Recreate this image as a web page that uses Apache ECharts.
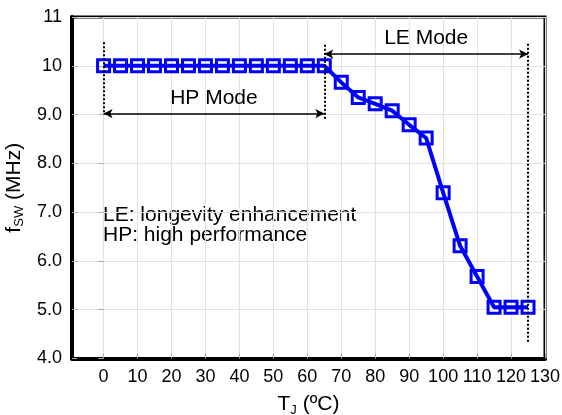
<!DOCTYPE html>
<html>
<head>
<meta charset="utf-8">
<script src="https://cdn.jsdelivr.net/npm/echarts@6/dist/echarts.min.js"></script>
<style>html,body{margin:0;padding:0;background:#fff;}#c{width:562px;height:415px;}</style>
</head>
<body>
<div id="c"></div>
<script>
// Data
const temps = [0,5,10,15,20,25,30,35,40,45,50,55,60,65,70,75,80,85,90,95,100,105,110,115,120,125];
const fsw   = [10,10,10,10,10,10,10,10,10,10,10,10,10,10,9.66,9.35,9.22,9.08,8.79,8.52,7.40,6.31,5.68,5.05,5.05,5.05];
const xTicks = [0,10,20,30,40,50,60,70,80,90,100,110,120,130];
const yTicks = [4,5,6,7,8,9,10,11];
const hpRange = [0,65];
const leRange = [65,125];
const modeLabels = ['HP Mode','LE Mode'];
const noteText = 'LE: longevity enhancement\nHP: high performance';

const FONT = 'Liberation Sans, Arial, sans-serif';
const chart = echarts.init(document.getElementById('c'), null, {renderer:'canvas'});
const seriesData = temps.map((t,i)=>[t,fsw[i]]);

const dotted = {type:'dotted', color:'#000', width:2};
const arrowLine = {type:'solid', color:'#000', width:1.6};
const gridColor = '#e2e2e2';

chart.setOption({
  animation:false,
  backgroundColor:'#fff',
  grid:{left:72, right:17, top:17, bottom:56.5, show:true, borderColor:'#000', borderWidth:3,
        backgroundColor:'transparent', containLabel:false, outerBoundsMode:'none'},
  xAxis:[{
    type:'value', min:-9.3, max:130,
    name:'{a|T}{s|J}{a| (ºC)}', nameLocation:'middle', nameGap:34,
    nameTextStyle:{rich:{a:{fontSize:21,fontFamily:FONT,color:'#000',lineHeight:24},s:{fontSize:13,fontFamily:FONT,color:'#000',verticalAlign:'bottom',lineHeight:12}}},
    axisLine:{show:true,onZero:false,lineStyle:{color:'#000',width:4}},
    axisTick:{show:true,inside:true,length:5,customValues:xTicks,lineStyle:{color:'#aaa'}},
    axisLabel:{customValues:xTicks,fontSize:18,fontFamily:FONT,color:'#000',margin:10},
    splitLine:{show:false}
  },{
    // vertical grid lines
    type:'value', min:-9.3, max:130, position:'top',
    axisLine:{show:false}, axisLabel:{show:false},
    axisTick:{show:false, customValues:xTicks},
    splitLine:{show:true,lineStyle:{color:gridColor,width:1}}
  }],
  yAxis:[{
    type:'value', min:4, max:11, interval:1,
    name:'{a|f}{s|SW}{a| (MHz)}', nameLocation:'middle', nameGap:40, nameRotate:90,
    nameTextStyle:{rich:{a:{fontSize:21,fontFamily:FONT,color:'#000',lineHeight:24},s:{fontSize:13,fontFamily:FONT,color:'#000',verticalAlign:'bottom',lineHeight:12}}},
    axisLine:{show:true,onZero:false,lineStyle:{color:'#000',width:4}},
    axisTick:{show:true,inside:true,length:5,lineStyle:{color:'#aaa'}},
    axisLabel:{fontSize:18,fontFamily:FONT,color:'#000',margin:10,
      formatter:v=> (v>=10? String(v) : v.toFixed(1))},
    splitLine:{show:true,lineStyle:{color:gridColor,width:1}}
  },{
    type:'value', min:4, max:11, interval:1, position:'right',
    axisLine:{show:false}, axisLabel:{show:false}, splitLine:{show:false},
    axisTick:{show:true,inside:true,length:5,lineStyle:{color:'#aaa'}}
  }],
  graphic:[{
    type:'text', left:103, top:205,
    style:{text:noteText, fontSize:21, lineHeight:20, fontFamily:FONT, fill:'#000'}
  }],
  series:[{
    type:'line', data:seriesData, showAllSymbol:true,
    symbol:'rect', symbolSize:12,
    lineStyle:{color:'#0000ff', width:4},
    itemStyle:{color:'rgba(0,0,0,0)', borderColor:'#0000ff', borderWidth:3},
    z:3,
    markLine:{
      silent:true, animation:false, symbol:['none','none'],
      label:{show:false},
      data:[
        [{coord:[hpRange[0],10.48],lineStyle:dotted},{coord:[hpRange[0],9.0]}],
        [{coord:[hpRange[1],10.43],lineStyle:dotted},{coord:[hpRange[1],8.9]}],
        [{coord:[leRange[1],10.45],lineStyle:dotted},{coord:[leRange[1],4.31]}],
        [{coord:[hpRange[0],9.02],symbol:'arrow',symbolSize:[7,9],lineStyle:arrowLine,
          label:{show:true,position:'middle',formatter:modeLabels[0],fontSize:21,fontFamily:FONT,color:'#000',distance:5}},
         {coord:[hpRange[1],9.02],symbol:'arrow',symbolSize:[7,9]}],
        [{coord:[leRange[0],10.24],symbol:'arrow',symbolSize:[7,9],lineStyle:arrowLine,
          label:{show:true,position:'middle',formatter:modeLabels[1],fontSize:21,fontFamily:FONT,color:'#000',distance:5}},
         {coord:[leRange[1],10.24],symbol:'arrow',symbolSize:[7,9]}]
      ]
    }
  }]
});
</script>
</body>
</html>
